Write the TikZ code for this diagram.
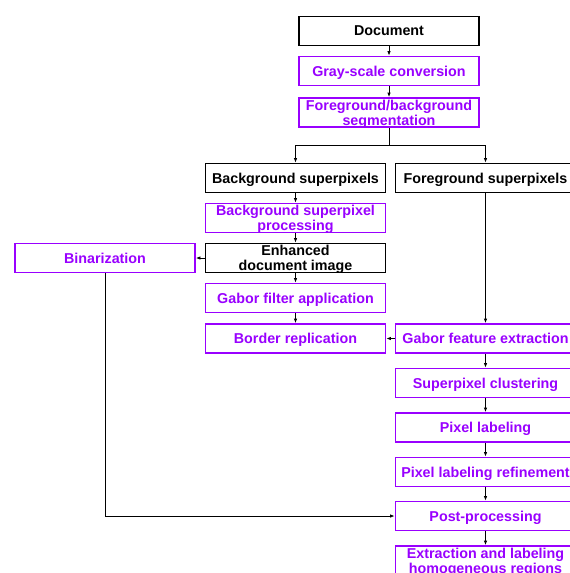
\documentclass[tikz,border=0pt]{standalone}
\usepackage{fontspec}
\setmainfont{Liberation Sans}
\usepackage{tikz}
\usetikzlibrary{arrows.meta}
\definecolor{mystepcolor}{HTML}{9900FF}

\tikzset{
  stepbox/.style={draw, line width=1.8pt, rectangle, fill=white, minimum width=180pt, minimum height=29pt, inner sep=0pt, text depth=0pt, align=center, font=\fontsize{14.3pt}{15pt}\selectfont\bfseries},
  blackbox/.style={stepbox, draw=black, text=black},
  purplebox/.style={stepbox, draw=mystepcolor, text=mystepcolor},
  flow/.style={line width=0.8pt, -{Latex[length=4.5pt,width=3.5pt]}}
}

\begin{document}
\begin{tikzpicture}[x=1pt, y=-1pt]%
\useasboundingbox (0,0) rectangle (570,573);%
\node[blackbox] (doc) at (389, 31) {Document};%
\node[purplebox] (gray) at (389, 71) {Gray-scale conversion};%
\node[purplebox] (seg) at (389, 112.5) {Foreground/background\\segmentation};%
\node[blackbox] (bgsp) at (295.5, 178) {Background superpixels};%
\node[blackbox] (fgsp) at (485.5, 178) {Foreground superpixels};%
\node[purplebox] (bgproc) at (295.5, 218) {Background superpixel\\processing};%
\node[blackbox] (enh) at (295.5, 258) {Enhanced\\document image};%
\node[purplebox] (bin) at (105, 258) {Binarization};%
\node[purplebox] (gabfil) at (295.5, 298) {Gabor filter application};%
\node[purplebox] (border) at (295.5, 338.5) {Border replication};%
\node[purplebox] (gabfeat) at (485.5, 338.5) {Gabor feature extraction};%
\node[purplebox] (clust) at (485.5, 383) {Superpixel clustering};%
\node[purplebox] (pixlab) at (485.5, 427.5) {Pixel labeling};%
\node[purplebox] (refine) at (485.5, 472) {Pixel labeling refinement};%
\node[purplebox] (post) at (485.5, 516) {Post-processing};%
\node[purplebox] (extract) at (485.5, 560.5) {Extraction and labeling\\homogeneous regions};%
\coordinate (split) at (389, 145);%
\draw[flow] (doc) -- (gray);%
\draw[flow] (gray) -- (seg);%
\draw[line width=0.8pt] (seg.south) -- (split);%
\draw[flow] (split) -| (bgsp.north);%
\draw[flow] (split) -| (fgsp.north);%
\draw[flow] (bgsp) -- (bgproc);%
\draw[flow] (bgproc) -- (enh);%
\draw[flow] (enh) -- (bin);%
\draw[flow] (enh) -- (gabfil);%
\draw[flow] (gabfil) -- (border);%
\draw[flow] (gabfeat) -- (border);%
\draw[flow] (fgsp) -- (gabfeat);%
\draw[flow] (gabfeat) -- (clust);%
\draw[flow] (clust) -- (pixlab);%
\draw[flow] (pixlab) -- (refine);%
\draw[flow] (refine) -- (post);%
\draw[flow] (post) -- (extract);%
\draw[flow] (bin.south) |- (post.west);%
\end{tikzpicture}
\end{document}
